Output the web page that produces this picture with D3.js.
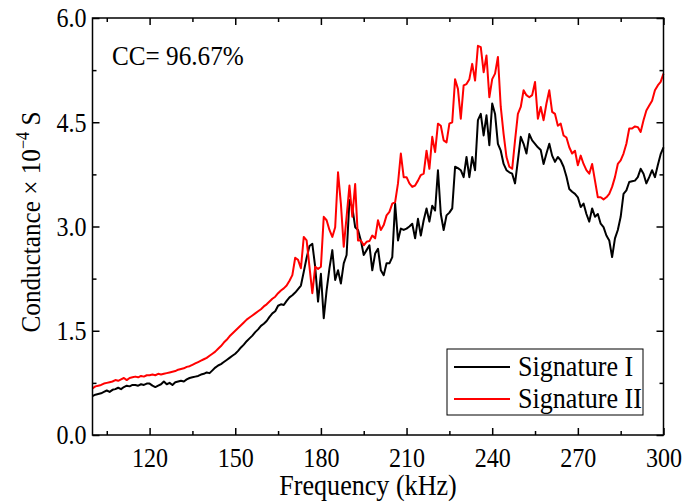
<!DOCTYPE html>
<html>
<head>
<meta charset="utf-8">
<script src="https://cdn.jsdelivr.net/npm/d3@7/dist/d3.min.js"></script>
<style>
  html, body { margin: 0; padding: 0; background: #fff; }
  svg { display: block; font-family: "Liberation Serif", "Times New Roman", serif; }
</style>
</head>
<body>
<svg id="chart" width="683" height="504"></svg>
<script>
// Frequency sweep (kHz), 1 kHz steps
const frequency = d3.range(100, 301);

// Conductance (×10^-4 S), Signature I
const signatureI = [
  0.56,0.58,0.59,0.60,0.62,0.64,0.62,0.65,0.66,0.68,
  0.66,0.69,0.71,0.70,0.72,0.72,0.71,0.73,0.72,0.74,
  0.74,0.71,0.69,0.71,0.73,0.77,0.73,0.75,0.72,0.76,
  0.77,0.78,0.77,0.80,0.82,0.83,0.84,0.85,0.87,0.88,
  0.90,0.89,0.93,0.97,1.00,1.02,1.05,1.08,1.11,1.14,
  1.17,1.21,1.26,1.30,1.35,1.39,1.43,1.48,1.52,1.57,
  1.60,1.64,1.70,1.75,1.78,1.86,1.88,1.87,1.93,1.98,
  2.01,2.05,2.10,2.15,2.35,2.55,2.72,2.75,2.42,1.92,
  2.32,1.68,2.08,2.40,2.66,2.23,2.37,2.18,2.47,2.59,
  3.38,3.28,2.99,2.95,2.80,2.59,2.66,2.73,2.37,2.61,
  2.68,2.37,2.30,2.47,2.47,2.56,3.33,2.80,2.97,2.95,
  2.97,3.00,3.04,2.83,3.11,2.87,3.09,3.26,3.07,3.30,
  3.23,3.81,3.18,2.95,3.16,3.20,3.26,3.86,3.84,3.81,
  3.71,4.00,3.71,4.00,3.81,4.53,4.62,4.31,4.60,4.17,
  4.77,4.62,4.19,4.09,3.90,3.81,3.78,3.76,3.62,3.95,
  4.29,4.19,4.05,4.33,4.24,4.19,4.14,4.10,3.90,4.05,
  4.19,4.02,3.93,4.00,3.95,3.86,3.72,3.54,3.50,3.47,
  3.42,3.28,3.33,3.18,3.07,3.26,3.14,3.18,3.04,2.99,
  2.87,2.80,2.56,2.83,2.95,3.14,3.47,3.52,3.64,3.65,
  3.66,3.71,3.83,3.76,3.62,3.71,3.81,3.71,3.88,4.04,
  4.14
];

// Conductance (×10^-4 S), Signature II
const signatureII = [
  0.67,0.70,0.71,0.72,0.74,0.75,0.76,0.77,0.79,0.78,
  0.80,0.82,0.79,0.82,0.83,0.84,0.83,0.85,0.84,0.86,
  0.86,0.87,0.86,0.88,0.87,0.88,0.89,0.90,0.91,0.92,
  0.94,0.95,0.96,0.98,0.99,1.01,1.03,1.05,1.07,1.09,
  1.11,1.14,1.17,1.20,1.24,1.28,1.33,1.37,1.42,1.46,
  1.50,1.54,1.58,1.62,1.66,1.69,1.72,1.75,1.78,1.81,
  1.85,1.88,1.92,1.96,1.99,2.04,2.08,2.11,2.15,2.22,
  2.30,2.55,2.52,2.40,2.85,2.80,2.42,2.04,2.42,2.39,
  2.42,3.14,3.09,2.95,2.85,2.99,3.78,3.33,2.71,3.14,
  3.59,3.14,3.61,2.80,2.80,2.73,2.78,2.79,2.87,2.83,
  3.09,2.95,3.02,3.16,3.21,3.33,3.35,3.62,4.05,3.71,
  3.71,3.62,3.57,3.59,3.66,3.74,3.76,4.09,3.83,4.29,
  4.07,4.48,4.45,4.24,4.21,4.48,4.50,5.12,4.98,4.55,
  5.03,5.05,5.12,5.34,5.10,5.60,5.58,5.22,5.46,4.86,
  5.12,5.20,5.44,4.72,4.33,4.00,3.86,3.83,4.24,4.62,
  4.72,4.96,4.89,4.86,4.89,5.08,4.55,4.72,4.53,4.77,
  4.96,4.65,4.62,4.45,4.48,4.31,4.28,4.14,4.05,4.09,
  3.88,4.02,3.90,3.81,3.76,3.90,3.66,3.42,3.42,3.39,
  3.42,3.47,3.57,3.71,3.90,3.95,4.05,4.19,4.41,4.41,
  4.44,4.43,4.36,4.53,4.67,4.74,4.81,4.96,5.03,5.08,
  5.20
];

const xTicks = [120, 150, 180, 210, 240, 270, 300];
const xMinorTicks = [105, 135, 165, 195, 225, 255, 285];
const yTicks = [0, 1.5, 3.0, 4.5, 6.0];
const yMinorTicks = [0.75, 2.25, 3.75, 5.25];

const series = [
  { name: "Signature I", values: signatureI, color: "#000000" },
  { name: "Signature II", values: signatureII, color: "#ff0000" }
];

const svg = d3.select("#chart");
const plotLeft = 92.5, plotRight = 663.5, plotTop = 18, plotBottom = 435;

// The typeface is set tall and narrow: a large size squeezed horizontally
const fontSize = 28;
const tickSqueeze = 0.86;
const textSqueeze = 0.9;

const x = d3.scaleLinear().domain([100, 300]).range([plotLeft, plotRight]);
const y = d3.scaleLinear().domain([0, 6]).range([plotBottom, plotTop]);

// Data lines
const line = d3.line()
  .x((d, i) => x(frequency[i]))
  .y(d => y(d));

svg.append("g").selectAll("path")
  .data(series)
  .join("path")
  .attr("d", s => line(s.values))
  .attr("fill", "none")
  .attr("stroke", s => s.color)
  .attr("stroke-width", 2)
  .attr("stroke-linejoin", "round");

// Axes with inward ticks on all four sides
const axStyle = g => {
  g.select(".domain").remove();
  g.selectAll("line").attr("stroke", "#000").attr("stroke-width", 1.5);
};
const labelStyle = g => g.selectAll("text")
  .attr("font-size", fontSize).attr("fill", "#000")
  .attr("font-family", "Liberation Serif, Times New Roman, serif")
  .attr("transform", `scale(${tickSqueeze},1)`);

svg.append("g").attr("transform", `translate(0,${plotBottom})`)
  .call(d3.axisBottom(x).tickValues(xTicks).tickSize(-7).tickPadding(12).tickFormat(d3.format("d")))
  .call(axStyle).call(labelStyle);
svg.append("g").attr("transform", `translate(0,${plotBottom})`)
  .call(d3.axisBottom(x).tickValues(xMinorTicks).tickSize(-4).tickFormat(""))
  .call(axStyle);

svg.append("g").attr("transform", `translate(0,${plotTop})`)
  .call(d3.axisTop(x).tickValues(xTicks).tickSize(-7).tickFormat(""))
  .call(axStyle);
svg.append("g").attr("transform", `translate(0,${plotTop})`)
  .call(d3.axisTop(x).tickValues(xMinorTicks).tickSize(-4).tickFormat(""))
  .call(axStyle);

svg.append("g").attr("transform", `translate(${plotLeft},0)`)
  .call(d3.axisLeft(y).tickValues(yTicks).tickSize(-7).tickPadding(7).tickFormat(d3.format(".1f")))
  .call(axStyle).call(labelStyle);
svg.append("g").attr("transform", `translate(${plotLeft},0)`)
  .call(d3.axisLeft(y).tickValues(yMinorTicks).tickSize(-4).tickFormat(""))
  .call(axStyle);

svg.append("g").attr("transform", `translate(${plotRight},0)`)
  .call(d3.axisRight(y).tickValues(yTicks).tickSize(-7).tickFormat(""))
  .call(axStyle);
svg.append("g").attr("transform", `translate(${plotRight},0)`)
  .call(d3.axisRight(y).tickValues(yMinorTicks).tickSize(-4).tickFormat(""))
  .call(axStyle);

// Plot frame
svg.append("rect")
  .attr("x", plotLeft).attr("y", plotTop)
  .attr("width", plotRight - plotLeft).attr("height", plotBottom - plotTop)
  .attr("fill", "none").attr("stroke", "#000").attr("stroke-width", 1.5);

// Places squeezed text at (tx, ty) with an optional rotation
function label(tx, ty, anchor, size, rotate = 0) {
  return svg.append("text")
    .attr("transform", `translate(${tx},${ty}) rotate(${rotate}) scale(${textSqueeze},1)`)
    .attr("text-anchor", anchor)
    .attr("font-size", size);
}

// Axis titles
label(368, 495, "middle", 29).text("Frequency (kHz)");

const yTitle = label(40, 222, "middle", 28, -90);
yTitle.append("tspan").text("Conductance × 10");
yTitle.append("tspan").attr("font-size", 18).attr("dy", -11).text("−4");
yTitle.append("tspan").attr("dy", 11).text(" S");

// Correlation coefficient annotation
label(112, 65, "start", 28).text("CC= 96.67%");

// Legend
const legend = svg.append("g").attr("transform", "translate(447,349)");
legend.append("rect")
  .attr("width", 196).attr("height", 66)
  .attr("fill", "#fff").attr("stroke", "#000").attr("stroke-width", 1);
series.forEach((s, i) => {
  const ly = 18 + i * 32;
  legend.append("line")
    .attr("x1", 7).attr("x2", 63).attr("y1", ly).attr("y2", ly)
    .attr("stroke", s.color).attr("stroke-width", 2);
  legend.append("text")
    .attr("transform", `translate(71,${ly + 9}) scale(0.9,1)`)
    .attr("font-size", 29)
    .text(s.name);
});
</script>
</body>
</html>
